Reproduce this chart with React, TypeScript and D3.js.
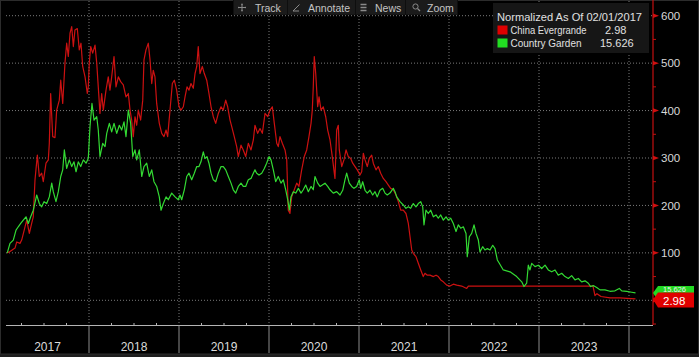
import React from 'react';
import * as d3 from 'd3';

// ---------- DATA (decimal year, normalized value) ----------
const evergrande: [number, number][] = [
  [2017.092,100],[2017.122,103],[2017.178,110],[2017.197,123],[2017.233,120],[2017.252,127],[2017.289,155],[2017.308,169],[2017.337,141],[2017.363,162],
  [2017.381,176],[2017.400,254],[2017.426,306],[2017.448,261],[2017.474,268],[2017.492,250],[2017.522,289],[2017.548,296],[2017.559,331],[2017.574,436],
  [2017.597,345],[2017.622,343],[2017.641,401],[2017.670,422],[2017.686,464],[2017.708,415],[2017.733,500],[2017.752,542],[2017.770,514],[2017.789,563],
  [2017.808,577],[2017.826,535],[2017.844,570],[2017.870,573],[2017.892,528],[2017.911,542],[2017.930,493],[2017.956,471],[2017.981,436],[2017.992,450],
  [2018.003,500],[2018.019,535],[2018.041,521],[2018.067,538],[2018.086,500],[2018.103,450],[2018.122,394],[2018.141,436],[2018.159,401],[2018.189,443],
  [2018.214,471],[2018.233,443],[2018.252,471],[2018.278,514],[2018.300,450],[2018.326,471],[2018.352,461],[2018.381,454],[2018.411,429],[2018.437,436],
  [2018.456,401],[2018.474,380],[2018.492,345],[2018.511,387],[2018.530,369],[2018.548,401],[2018.574,380],[2018.597,422],[2018.611,507],[2018.633,528],
  [2018.659,542],[2018.678,507],[2018.697,457],[2018.714,485],[2018.733,471],[2018.752,415],[2018.781,373],[2018.808,352],[2018.833,345],[2018.856,359],
  [2018.874,345],[2018.900,401],[2018.926,457],[2018.948,464],[2018.974,443],[2019.000,408],[2019.022,401],[2019.048,408],[2019.067,429],[2019.089,450],
  [2019.111,443],[2019.133,457],[2019.159,447],[2019.178,478],[2019.197,493],[2019.214,535],[2019.233,478],[2019.259,493],[2019.281,478],[2019.308,464],
  [2019.333,436],[2019.356,408],[2019.381,387],[2019.408,373],[2019.437,394],[2019.467,408],[2019.492,401],[2019.519,422],[2019.541,408],[2019.567,380],
  [2019.586,366],[2019.614,345],[2019.641,324],[2019.659,303],[2019.689,327],[2019.714,317],[2019.741,303],[2019.770,331],[2019.800,317],[2019.826,338],
  [2019.844,369],[2019.874,352],[2019.900,362],[2019.926,352],[2019.956,394],[2019.986,387],[2020.011,401],[2020.037,408],[2020.059,373],[2020.086,331],
  [2020.103,324],[2020.122,345],[2020.148,331],[2020.178,317],[2020.197,296],[2020.214,190],[2020.233,183],[2020.252,218],[2020.281,233],[2020.308,247],
  [2020.333,240],[2020.363,275],[2020.392,303],[2020.419,317],[2020.444,345],[2020.467,373],[2020.481,401],[2020.492,450],[2020.503,514],[2020.519,478],
  [2020.541,408],[2020.556,429],[2020.578,401],[2020.603,408],[2020.630,387],[2020.652,359],[2020.678,338],[2020.703,303],[2020.733,257],[2020.752,359],
  [2020.770,369],[2020.781,317],[2020.808,282],[2020.833,296],[2020.856,317],[2020.881,303],[2020.908,299],[2020.930,289],[2020.956,282],[2020.981,275],
  [2021.011,264],[2021.030,271],[2021.048,310],[2021.067,296],[2021.092,282],[2021.114,299],[2021.141,306],[2021.159,289],[2021.189,275],[2021.214,282],
  [2021.241,268],[2021.270,257],[2021.300,250],[2021.326,243],[2021.352,236],[2021.381,233],[2021.411,222],[2021.437,208],[2021.463,190],[2021.492,190],
  [2021.522,183],[2021.548,162],[2021.567,134],[2021.586,106],[2021.603,99],[2021.633,92],[2021.659,78],[2021.686,64],[2021.714,50],[2021.733,57],
  [2021.759,53],[2021.789,53],[2021.826,50],[2021.856,53],[2021.881,50],[2021.908,43],[2021.937,39],[2021.974,32],[2022.011,30],[2022.048,34],
  [2022.086,32],[2022.141,30],[2022.197,25],[2022.215,30],[2023.600,30],[2023.622,10],[2023.644,14],[2023.689,8],[2023.789,5],[2023.900,5],
  [2023.978,4],[2024.072,2.98],
];

const countryGarden: [number, number][] = [
  [2017.092,100],[2017.122,120],[2017.159,127],[2017.189,148],[2017.214,155],[2017.241,162],[2017.270,169],[2017.300,176],[2017.326,162],[2017.352,176],
  [2017.381,190],[2017.419,222],[2017.448,204],[2017.474,197],[2017.500,208],[2017.530,204],[2017.559,218],[2017.586,247],[2017.603,229],[2017.633,208],
  [2017.659,229],[2017.686,261],[2017.708,275],[2017.726,317],[2017.752,278],[2017.781,296],[2017.808,282],[2017.833,292],[2017.856,271],[2017.881,292],
  [2017.908,282],[2017.937,296],[2017.967,289],[2017.992,299],[2018.011,366],[2018.033,415],[2018.056,380],[2018.086,387],[2018.103,359],[2018.122,303],
  [2018.152,331],[2018.178,324],[2018.197,352],[2018.226,373],[2018.252,355],[2018.278,373],[2018.308,352],[2018.337,369],[2018.363,359],[2018.389,376],
  [2018.411,345],[2018.437,401],[2018.463,373],[2018.486,303],[2018.511,317],[2018.530,296],[2018.559,317],[2018.586,261],[2018.611,282],[2018.641,289],
  [2018.670,261],[2018.697,275],[2018.722,250],[2018.752,240],[2018.781,218],[2018.800,190],[2018.826,204],[2018.856,218],[2018.881,212],[2018.919,226],
  [2018.956,218],[2018.992,212],[2019.011,222],[2019.030,212],[2019.059,233],[2019.086,261],[2019.111,268],[2019.141,254],[2019.170,268],[2019.197,282],
  [2019.222,282],[2019.244,292],[2019.270,313],[2019.289,299],[2019.311,303],[2019.333,289],[2019.356,268],[2019.381,254],[2019.408,250],[2019.437,268],
  [2019.467,282],[2019.492,282],[2019.519,275],[2019.548,261],[2019.578,247],[2019.603,233],[2019.630,226],[2019.659,240],[2019.689,247],[2019.714,240],
  [2019.741,240],[2019.770,254],[2019.800,257],[2019.826,268],[2019.844,275],[2019.863,268],[2019.889,264],[2019.919,268],[2019.948,278],[2019.974,289],
  [2020.000,303],[2020.022,296],[2020.048,275],[2020.074,250],[2020.103,261],[2020.133,247],[2020.159,254],[2020.186,233],[2020.208,212],[2020.226,190],
  [2020.244,218],[2020.270,229],[2020.297,226],[2020.326,236],[2020.356,226],[2020.381,233],[2020.408,243],[2020.437,229],[2020.467,240],[2020.492,233],
  [2020.511,261],[2020.541,247],[2020.567,240],[2020.592,243],[2020.622,247],[2020.652,240],[2020.678,233],[2020.714,226],[2020.752,229],[2020.789,222],
  [2020.819,232],[2020.844,254],[2020.863,268],[2020.892,247],[2020.919,240],[2020.944,236],[2020.974,240],[2021.003,254],[2021.019,236],[2021.041,250],
  [2021.067,232],[2021.092,226],[2021.122,232],[2021.152,222],[2021.178,229],[2021.203,218],[2021.233,232],[2021.263,236],[2021.289,226],[2021.314,222],
  [2021.344,226],[2021.381,236],[2021.400,229],[2021.419,218],[2021.456,208],[2021.492,201],[2021.522,194],[2021.548,197],[2021.574,194],[2021.603,204],
  [2021.633,197],[2021.659,204],[2021.686,208],[2021.708,197],[2021.722,159],[2021.744,190],[2021.770,183],[2021.797,190],[2021.826,176],[2021.856,180],
  [2021.881,173],[2021.908,180],[2021.937,169],[2021.967,176],[2021.992,169],[2022.019,173],[2022.048,162],[2022.078,145],[2022.103,159],[2022.130,152],
  [2022.159,155],[2022.189,141],[2022.203,92],[2022.226,134],[2022.252,141],[2022.278,159],[2022.300,141],[2022.326,127],[2022.344,102],[2022.374,113],
  [2022.400,106],[2022.426,109],[2022.456,106],[2022.486,116],[2022.511,109],[2022.537,85],[2022.559,78],[2022.603,64],[2022.678,60],[2022.752,50],
  [2022.808,39],[2022.833,29],[2022.863,36],[2022.881,74],[2022.900,64],[2022.919,78],[2022.956,71],[2022.992,74],[2023.030,67],[2023.067,74],
  [2023.103,64],[2023.141,60],[2023.178,64],[2023.214,53],[2023.252,57],[2023.289,50],[2023.326,46],[2023.363,52],[2023.400,43],[2023.437,46],
  [2023.474,39],[2023.511,41],[2023.548,36],[2023.574,29],[2023.603,31],[2023.641,27],[2023.678,22],[2023.733,22],[2023.789,19],[2023.844,20],
  [2023.892,25],[2023.919,20],[2023.974,19],[2024.030,17],[2024.072,15.626],
];

const yearLabels = [2017, 2018, 2019, 2020, 2021, 2022, 2023];
const yGridValues = [0, 100, 200, 300, 400, 500, 600];
const yLabelValues = [100, 200, 300, 400, 500, 600];
const yMinorValues = [-50, 50, 150, 250, 350, 450, 550];
const seriesNames = ['China Evergrande', 'Country Garden'];
const lastValues = ['2.98', '15.626'];
const legendTitle = 'Normalized As Of 02/01/2017';
const toolbarItems = ['Track', 'Annotate', 'News', 'Zoom'];

// ---------- STYLE ----------
const RED = '#cc1111';
const GREEN = '#33da33';
const NARROW = "'Liberation Sans Narrow', 'Arial Narrow', 'Liberation Sans', sans-serif";
const SANS = "'Liberation Sans', Arial, sans-serif";

export default function App() {
  const W = 699, H = 357;
  const plotLeft = 6, plotRight = 653, axisY = 325.5;
  const x = d3.scaleLinear().domain([2017, 2024]).range([-1, 629]);
  const y = d3.scaleLinear().domain([0, 600]).range([300.3, 15.7]);
  const line = d3.line<[number, number]>().x(d => x(d[0])).y(d => y(d[1]));

  const yearBounds = d3.range(2018, 2025);
  const quarterTicks: number[] = [];
  for (let yr = 2017; yr <= 2024; yr++) {
    [0.25, 0.5, 0.75].forEach(q => {
      const px = x(yr + q);
      if (px > plotLeft && px < plotRight - 2) quarterTicks.push(px);
    });
  }

  const toolbar = [
    { x0: 234, x1: 287, text: 255 },
    { x0: 288, x1: 355, text: 308 },
    { x0: 356, x1: 405, text: 375 },
    { x0: 406, x1: 457, text: 427 },
  ];

  return (
    <div style={{ position: 'fixed', left: 0, top: 0 }}>
      <svg width={W} height={H} style={{ display: 'block', background: '#000' }}>
        <rect x={0} y={0} width={W} height={H} fill="#000" />
        <rect x={0} y={354} width={W} height={3} fill="#1e1e1e" />
        <rect x={0.5} y={0.5} width={W - 1} height={353.5} fill="none" stroke="#2c2c2c" />

        {/* horizontal gridlines */}
        {yGridValues.map(v => (
          <line key={'h' + v} x1={plotLeft} x2={plotRight} y1={y(v)} y2={y(v)}
            stroke="#7a7a7a" strokeWidth={1} strokeDasharray="1 2" />
        ))}
        {/* vertical gridlines */}
        {yearBounds.map(yr => (
          <line key={'v' + yr} x1={x(yr)} x2={x(yr)} y1={1} y2={axisY}
            stroke="#7a7a7a" strokeWidth={1} strokeDasharray="1 2" />
        ))}

        {/* series */}
        <path d={line(evergrande) || ''} fill="none" stroke={RED} strokeWidth={1.2} strokeLinejoin="round" />
        <path d={line(countryGarden) || ''} fill="none" stroke={GREEN} strokeWidth={1.2} strokeLinejoin="round" />

        {/* x axis */}
        <line x1={plotLeft} x2={plotRight} y1={axisY} y2={axisY} stroke="#b4b4b4" strokeWidth={1} />
        {quarterTicks.map((px, i) => (
          <line key={'q' + i} x1={px} x2={px} y1={axisY} y2={axisY - 2.5} stroke="#b4b4b4" strokeWidth={1} />
        ))}
        {yearBounds.map(yr => (
          <line key={'s' + yr} x1={x(yr)} x2={x(yr)} y1={axisY} y2={353} stroke="#8c8c8c" strokeWidth={1} />
        ))}
        {yearLabels.map(yr => {
          const a = Math.max(x(yr), plotLeft);
          const b = x(yr + 1);
          return (
            <text key={'yl' + yr} x={(a + b) / 2} y={350.5} textAnchor="middle"
              fontFamily={NARROW} fontSize={12} fill="#dcdcdc">{yr}</text>
          );
        })}

        {/* y axis */}
        <line x1={plotRight} x2={plotRight} y1={0} y2={325} stroke="#c41010" strokeWidth={1.2} />
        {yMinorValues.map(v => (
          <line key={'m' + v} x1={plotRight} x2={plotRight + 3} y1={y(v)} y2={y(v)} stroke="#c41010" strokeWidth={1} />
        ))}
        {yGridValues.map(v => (
          <path key={'yt' + v} d={`M${plotRight},${y(v) - 2.2}L${plotRight + 6},${y(v)}L${plotRight},${y(v) + 2.2}Z`} fill="#d01010" />
        ))}
        {yLabelValues.map(v => (
          <text key={'yl' + v} x={661} y={y(v)} dy="0.36em" fontFamily={NARROW} fontSize={11.5} fill="#d8d8d8">{v}</text>
        ))}

        {/* last value tags */}
        <path d={`M${plotRight},${y(15.626)}L658,286L694,286L694,300.5L658,300.5Z`} fill="#22d822" />
        <text x={663} y={292} fontFamily={NARROW} fontSize={7.5} fill="#f0f0f0">{lastValues[1]}</text>
        <path d={`M${plotRight},${y(2.98) + 0.5}L658,292.5L694,292.5L694,307.5L658,307.5Z`} fill="#e00000" />
        <text x={663} y={304.5} fontFamily={NARROW} fontSize={11.5} fill="#ffffff">{lastValues[0]}</text>

        {/* toolbar */}
        <rect x={233} y={0} width={225} height={15} fill="#0e0e0e" />
        {toolbar.map((t, i) => (
          <g key={'tb' + i}>
            <rect x={t.x0} y={0} width={t.x1 - t.x0} height={14.5} fill="#1b1b1b" />
            <text x={t.text} y={12} fontFamily={SANS} fontSize={10.5} fill="#c4c4c4">{toolbarItems[i]}</text>
          </g>
        ))}
        {/* toolbar icons */}
        <path d="M242,3.5v8M238,7.5h8" stroke="#8a8a8a" strokeWidth={1} />
        <path d="M240,7.5l-1.5,-1v2zM244,7.5l1.5,-1v2zM242,5.5l-1,-1.5h2zM242,9.5l-1,1.5h2z" fill="#8a8a8a" />
        <path d="M293,11L299.5,4.5M293,11h6" stroke="#8a8a8a" strokeWidth={1} fill="none" />
        <path d="M360.5,4.5h6M360.5,7.5h6M360.5,10.5h6" stroke="#8a8a8a" strokeWidth={1.6} />
        <circle cx={415.5} cy={6.5} r={2.6} stroke="#8a8a8a" strokeWidth={1} fill="none" />
        <path d="M417.5,8.5L420,11" stroke="#8a8a8a" strokeWidth={1.3} />

        {/* legend */}
        <rect x={493} y={3} width={156} height={50} fill="#161616" />
        <text x={497} y={21} fontFamily={SANS} fontSize={11} fill="#e0e0e0"
          textLength={145} lengthAdjust="spacingAndGlyphs">{legendTitle}</text>
        <rect x={497.5} y={25.5} width={10} height={9} fill="#e00000" />
        <rect x={497.5} y={38.5} width={10} height={9} fill="#22dd22" />
        <text x={510.5} y={34} fontFamily={SANS} fontSize={11} fill="#e0e0e0"
          textLength={76} lengthAdjust="spacingAndGlyphs">{seriesNames[0]}</text>
        <text x={510.5} y={47} fontFamily={SANS} fontSize={11} fill="#e0e0e0"
          textLength={71} lengthAdjust="spacingAndGlyphs">{seriesNames[1]}</text>
        <text x={605} y={34} fontFamily={SANS} fontSize={11} fill="#e0e0e0">{lastValues[0]}</text>
        <text x={600} y={47} fontFamily={SANS} fontSize={11} fill="#e0e0e0">{lastValues[1]}</text>
      </svg>
    </div>
  );
}
